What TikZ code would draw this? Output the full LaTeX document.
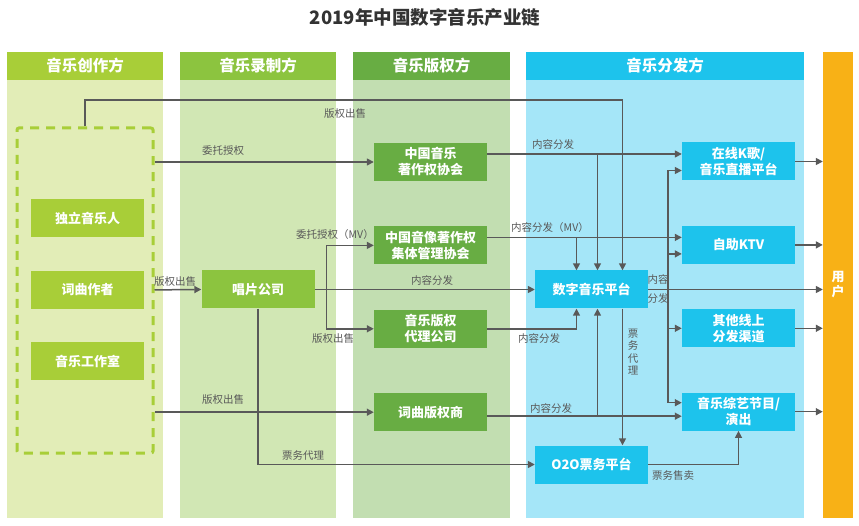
\documentclass[tikz,border=0pt]{standalone}
\usepackage{fontspec}
\setmainfont{Noto Sans CJK SC}
\usetikzlibrary{positioning, arrows.meta}
\definecolor{createhead}{HTML}{A8CE38}
\definecolor{createbody}{HTML}{E2EDB7}
\definecolor{recordhead}{HTML}{8CC43F}
\definecolor{recordbody}{HTML}{D1E7B4}
\definecolor{righthead}{HTML}{68AD43}
\definecolor{rightbody}{HTML}{C2DEB1}
\definecolor{disthead}{HTML}{1DC3EC}
\definecolor{distbody}{HTML}{A5E6F8}
\definecolor{userorange}{HTML}{F8B116}
\definecolor{linegray}{HTML}{595959}
\definecolor{titlegray}{HTML}{333333}

\begin{document}
\begin{tikzpicture}[
    x=1pt, y=-1pt,
    node distance=33pt,
    every node/.style={inner sep=0pt, align=center},
    colhead/.style={minimum height=28pt, text=white, font=\fontsize{15.5}{18}\selectfont\bfseries},
    box/.style={minimum width=113pt, minimum height=38pt, text=white, font=\fontsize{13}{16}\selectfont\bfseries},
    dashbox/.style={draw=createhead, line width=3pt, dash pattern=on 9pt off 7pt, rounded corners=2pt, minimum width=136pt, minimum height=325pt},
    lbl/.style={text=linegray, font=\fontsize{10.5}{12.6}\selectfont},
    arrow/.style={-{Triangle[length=7pt, width=7pt]}, line width=1.5pt, draw=linegray},
    line/.style={line width=1.5pt, draw=linegray}
]
\useasboundingbox (0,0) rectangle (859,526);
\fill[white] (0,0) rectangle (859,526);
\node[font=\fontsize{18.5}{22}\selectfont\bfseries, text=titlegray] (title) at (425,17) {2019年中国数字音乐产业链};

\fill[createbody] (7,80) rectangle (163,518);
\fill[recordbody] (180,80) rectangle (336,518);
\fill[rightbody] (353,80) rectangle (510,518);
\fill[distbody] (526,80) rectangle (804,518);
\node[colhead, fill=createhead, minimum width=156pt] (hcreate) at (85,66) {音乐创作方};
\node[colhead, fill=recordhead, minimum width=156pt] (hrecord) at (258,66) {音乐录制方};
\node[colhead, fill=righthead, minimum width=157pt] (hright) at (431.5,66) {音乐版权方};
\node[colhead, fill=disthead, minimum width=278pt] (hdist) at (665,66) {音乐分发方};
\node[fill=userorange, minimum width=30pt, minimum height=466pt, text=white, font=\fontsize{13}{15}\selectfont\bfseries] (user) at (838,285) {用\\户};

\node[dashbox] (creators) at (85,290.5) {};
\node[box, fill=createhead] (indie) at (87.5,218.5) {独立音乐人};
\node[box, fill=createhead, below=of indie] (writer) {词曲作者};
\node[box, fill=createhead, below=of writer] (studio) {音乐工作室};

\node[box, fill=recordhead] (records) at (258,289.5) {唱片公司};

\node[box, fill=righthead] (mcsc) at (430.5,162) {中国音乐\\著作权协会};
\node[box, fill=righthead, below=45pt of mcsc] (avcsa) {中国音像著作权\\集体管理协会};
\node[box, fill=righthead, below=45pt of avcsa] (agency) {音乐版权\\代理公司};
\node[box, fill=righthead, below=45pt of agency] (lyric) {词曲版权商};

\node[box, fill=disthead] (dmp) at (591.5,289.5) {数字音乐平台};
\node[box, fill=disthead] (o2o) at (591.5,464.5) {O2O票务平台};
\node[box, fill=disthead] (karaoke) at (738.5,161.5) {在线K歌/\\音乐直播平台};
\node[box, fill=disthead, below=45pt of karaoke] (ktv) {自助KTV};
\node[box, fill=disthead, below=45pt of ktv] (other) {其他线上\\分发渠道};
\node[box, fill=disthead, below=45pt of other] (variety) {音乐综艺节目/\\演出};

\coordinate (topline) at (0,100);
\coordinate (dmpA) at ([xshift=-15pt]dmp.north);
\coordinate (dmpB) at ([xshift=6pt]dmp.north);
\coordinate (dmpC) at ([xshift=31pt]dmp.north);
\coordinate (dmpD) at ([xshift=-15pt]dmp.south);
\coordinate (dmpE) at ([xshift=6pt]dmp.south);
\coordinate (dmpF) at ([xshift=31pt]dmp.south);
\coordinate (mcout) at ([yshift=8pt]mcsc.east);
\coordinate (avout) at ([yshift=8pt]avcsa.east);
\coordinate (lyout) at ([yshift=-4pt]lyric.east);
\coordinate (fork) at ([xshift=12pt]records.east);
\coordinate (bus) at ([xshift=20pt]dmp.east);
\coordinate (kin) at ([yshift=-9pt]karaoke.west);
\coordinate (tin) at ([yshift=-9pt]ktv.west);
\coordinate (vin) at ([yshift=9pt]variety.west);

\draw[arrow] (creators.north) -- (creators.north |- topline) -| (dmpC);
\draw[arrow] (creators.east |- mcsc.west) -- (mcsc.west);
\draw[arrow] (creators.east |- writer.east) -- (records.west);
\draw[arrow] (creators.east |- lyric.west) -- (lyric.west);
\draw[arrow] (records.east) -- (dmp.west);
\draw[arrow] (fork) |- (avcsa.west);
\draw[arrow] (fork) |- (agency.west);
\draw[arrow] (records.south) |- (o2o.west);
\draw[arrow] (mcout) -- (mcout -| karaoke.west);
\draw[arrow] (dmpB |- mcout) -- (dmpB);
\draw[arrow] (avout) -- (avout -| ktv.west);
\draw[arrow] (dmpA |- avout) -- (dmpA);
\draw[arrow] (agency.east) -| (dmpD);
\draw[arrow] (lyout) -- (lyout -| variety.west);
\draw[arrow] (dmpE |- lyout) -- (dmpE);
\draw[arrow] (dmpF) -- (dmpF |- o2o.north);
\draw[arrow] (o2o.east) -| (variety.south);
\draw[arrow] (dmp.east) -- (dmp.east -| user.west);
\draw[line] (bus |- kin) -- (bus |- vin);
\foreach \p in {kin, tin, other.west, vin}
    \draw[arrow] (bus |- \p) -- (\p);
\foreach \n in {karaoke, ktv, other, variety}
    \draw[arrow] (\n.east) -- (\n.east -| user.west);

\node[lbl] (t1) at (345,114) {版权出售};
\node[lbl] (t2) at (223,151) {委托授权};
\node[lbl] (t3) at (175,282) {版权出售};
\node[lbl] (t4) at (223,400) {版权出售};
\node[lbl] (t5) at (335,235) {委托授权（MV）};
\node[lbl] (t6) at (333,339) {版权出售};
\node[lbl] (t7) at (432,280) {内容分发};
\node[lbl] (t8) at (303,456) {票务代理};
\node[lbl] (t9) at (553,144) {内容分发};
\node[lbl] (t10) at (550,228) {内容分发（MV）};
\node[lbl] (t11) at (539,338) {内容分发};
\node[lbl] (t12) at (551,408) {内容分发};
\node[lbl] (t13) at (633,352) {票\\务\\代\\理};
\node[lbl] (t14) at (673,476) {票务售卖};
\node[lbl, font=\fontsize{10.5}{19}\selectfont] (t15) at (658,289) {内容\\分发};
\end{tikzpicture}
\end{document}
